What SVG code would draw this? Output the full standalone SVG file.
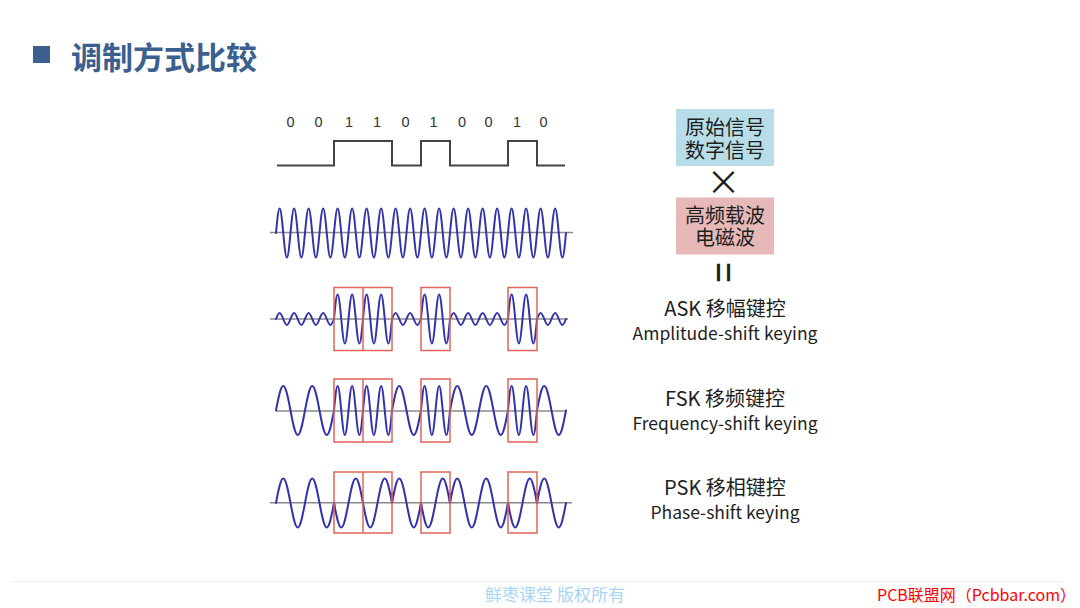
<svg xmlns="http://www.w3.org/2000/svg" width="1080" height="608" viewBox="0 0 1080 608">
<style>
.cjk{font-family:"Noto Sans CJK SC","Noto Sans",sans-serif}
.t20{font-size:20px;fill:#1e1e1e;text-anchor:middle}
.t18{font-size:17.5px;fill:#1e1e1e;text-anchor:middle}
.bit{font-family:"Liberation Sans",Arial,sans-serif;font-size:14.5px;fill:#333;text-anchor:middle}
.axis{stroke:#8a8a8a;stroke-width:1.5;fill:none}
.box{stroke:#e0645a;stroke-width:1.5;fill:none}
.wave{stroke:#3333aa;stroke-width:2;fill:none;stroke-linecap:round;stroke-linejoin:round}
</style>
<defs>
<path id="h" d="M0,0c1.182,-12.55 2.313,-24.5 3.625,-24.5c1.312,0 2.443,11.95 3.625,24.5c1.182,12.55 2.313,24.5 3.625,24.5c1.312,0 2.443,-11.95 3.625,-24.5c1.182,-12.55 2.313,-24.5 3.625,-24.5c1.312,0 2.443,11.95 3.625,24.5c1.182,12.55 2.313,24.5 3.625,24.5c1.312,0 2.443,-11.95 3.625,-24.5"/>
<path id="s" d="M0,0c1.182,-3.07 2.313,-6 3.625,-6c1.312,0 2.443,2.93 3.625,6c1.182,3.07 2.313,6 3.625,6c1.312,0 2.443,-2.93 3.625,-6c1.182,-3.07 2.313,-6 3.625,-6c1.312,0 2.443,2.93 3.625,6c1.182,3.07 2.313,6 3.625,6c1.312,0 2.443,-2.93 3.625,-6"/>
<path id="l" d="M0,0c2.364,-12.55 4.626,-24.5 7.25,-24.5c2.624,0 4.886,11.95 7.25,24.5c2.364,12.55 4.626,24.5 7.25,24.5c2.624,0 4.886,-11.95 7.25,-24.5"/>
<path id="n" d="M0,0c2.364,12.55 4.626,24.5 7.25,24.5c2.624,0 4.886,-11.950 7.25,-24.5c2.364,-12.55 4.626,-24.5 7.25,-24.5c2.624,0 4.886,11.95 7.25,24.5"/>
</defs>
<rect width="1080" height="608" fill="#ffffff"/>

<g id="title">
<rect x="33" y="46" width="17" height="17" fill="#3b5f8e"/>
<text x="71" y="68.5" class="cjk" font-size="31" font-weight="bold" fill="#3b5f8e">调制方式比较</text>
</g>

<g id="digital-signal">
<text class="bit" x="290.5" y="126.5">0</text>
<text class="bit" x="318.5" y="126.5">0</text>
<text class="bit" x="349" y="126.5">1</text>
<text class="bit" x="377" y="126.5">1</text>
<text class="bit" x="405.5" y="126.5">0</text>
<text class="bit" x="433.5" y="126.5">1</text>
<text class="bit" x="462" y="126.5">0</text>
<text class="bit" x="488.5" y="126.5">0</text>
<text class="bit" x="517" y="126.5">1</text>
<text class="bit" x="543.5" y="126.5">0</text>
<path d="M277,165.5H334V141H392V165.5H421V141H450V165.5H508V141H537V165.5H565" fill="none" stroke="#444" stroke-width="2"/>
</g>

<g id="carrier">
<line class="axis" x1="270" y1="232.5" x2="573" y2="232.5"/>
<g class="wave" transform="translate(0,233)">
<use href="#h" x="276"/><use href="#h" x="305"/><use href="#h" x="334"/><use href="#h" x="363"/><use href="#h" x="392"/><use href="#h" x="421"/><use href="#h" x="450"/><use href="#h" x="479"/><use href="#h" x="508"/><use href="#h" x="537"/>
</g>
</g>

<g id="ask">
<line class="axis" x1="270" y1="319" x2="568" y2="319"/>
<g class="wave" transform="translate(0,319)">
<use href="#s" x="276"/><use href="#s" x="305"/><use href="#h" x="334"/><use href="#h" x="363"/><use href="#s" x="392"/><use href="#h" x="421"/><use href="#s" x="450"/><use href="#s" x="479"/><use href="#h" x="508"/><use href="#s" x="537"/>
</g>
<rect class="box" x="334" y="287.5" width="58" height="63"/>
<line class="box" x1="363" y1="287.5" x2="363" y2="350.5"/>
<rect class="box" x="421" y="287.5" width="29" height="63"/>
<rect class="box" x="508" y="287.5" width="29" height="63"/>
</g>

<g id="fsk">
<line class="axis" x1="276" y1="411" x2="567" y2="411"/>
<g class="wave" transform="translate(0,410.5)">
<use href="#l" x="276"/><use href="#l" x="305"/><use href="#h" x="334"/><use href="#h" x="363"/><use href="#l" x="392"/><use href="#h" x="421"/><use href="#l" x="450"/><use href="#l" x="479"/><use href="#h" x="508"/><use href="#l" x="537"/>
</g>
<rect class="box" x="334" y="379" width="58" height="63"/>
<line class="box" x1="363" y1="379" x2="363" y2="442"/>
<rect class="box" x="421" y="379" width="29" height="63"/>
<rect class="box" x="508" y="379" width="29" height="63"/>
</g>

<g id="psk">
<line class="axis" x1="270" y1="502.7" x2="572" y2="502.7"/>
<g class="wave" transform="translate(0,503)">
<use href="#l" x="276"/><use href="#l" x="305"/><use href="#n" x="334"/><use href="#n" x="363"/><use href="#l" x="392"/><use href="#n" x="421"/><use href="#l" x="450"/><use href="#l" x="479"/><use href="#n" x="508"/><use href="#l" x="537"/>
</g>
<g stroke="#6a2a8e" stroke-width="2.5" stroke-linecap="round">
<line x1="334" y1="504" x2="334" y2="511"/>
<line x1="392" y1="494" x2="392" y2="501"/>
<line x1="421" y1="504" x2="421" y2="511"/>
<line x1="450" y1="494" x2="450" y2="501"/>
<line x1="508" y1="504" x2="508" y2="511"/>
<line x1="537" y1="494" x2="537" y2="501"/>
</g>
<rect class="box" x="334" y="472" width="58" height="61"/>
<line class="box" x1="363" y1="472" x2="363" y2="533"/>
<rect class="box" x="421" y="472" width="29" height="61"/>
<rect class="box" x="508" y="472" width="29" height="61"/>
</g>

<g id="box-original">
<rect x="676" y="109" width="98" height="57" fill="#b7dde8"/>
<text class="cjk t20"><tspan x="725" y="135">原始信号</tspan><tspan x="725" y="157.6">数字信号</tspan></text>
</g>
<g id="times">
<text class="cjk" x="723.5" y="195" font-size="34" fill="#1e1e1e" text-anchor="middle">×</text>
</g>
<g id="box-carrier">
<rect x="676" y="197.5" width="98" height="57" fill="#e6b8b7"/>
<text class="cjk t20"><tspan x="725" y="222.6">高频载波</tspan><tspan x="725" y="245.3">电磁波</tspan></text>
</g>
<g id="equals">
<text class="cjk" x="0" y="16.6" font-size="45" fill="#1e1e1e" text-anchor="middle" transform="translate(723.5,272.5) rotate(90) scale(0.8,1)">=</text>
</g>

<g id="label-ask">
<text class="cjk t20" x="725" y="316">ASK 移幅键控</text>
<text class="cjk t18" x="725" y="340">Amplitude-shift keying</text>
</g>
<g id="label-fsk">
<text class="cjk t20" x="725" y="406">FSK 移频键控</text>
<text class="cjk t18" x="725" y="430">Frequency-shift keying</text>
</g>
<g id="label-psk">
<text class="cjk t20" x="725" y="495">PSK 移相键控</text>
<text class="cjk t18" x="725" y="518.5">Phase-shift keying</text>
</g>

<g id="footer">
<line x1="12" y1="581.5" x2="1062" y2="581.5" stroke="#ececf4" stroke-width="1"/>
<text class="cjk" x="555" y="601" font-size="17" fill="#a9d5f7" text-anchor="middle">鲜枣课堂  版权所有</text>
<text class="cjk" x="877" y="601" font-size="16" fill="#ff0000">PCB联盟网（Pcbbar.com）</text>
</g>
</svg>
